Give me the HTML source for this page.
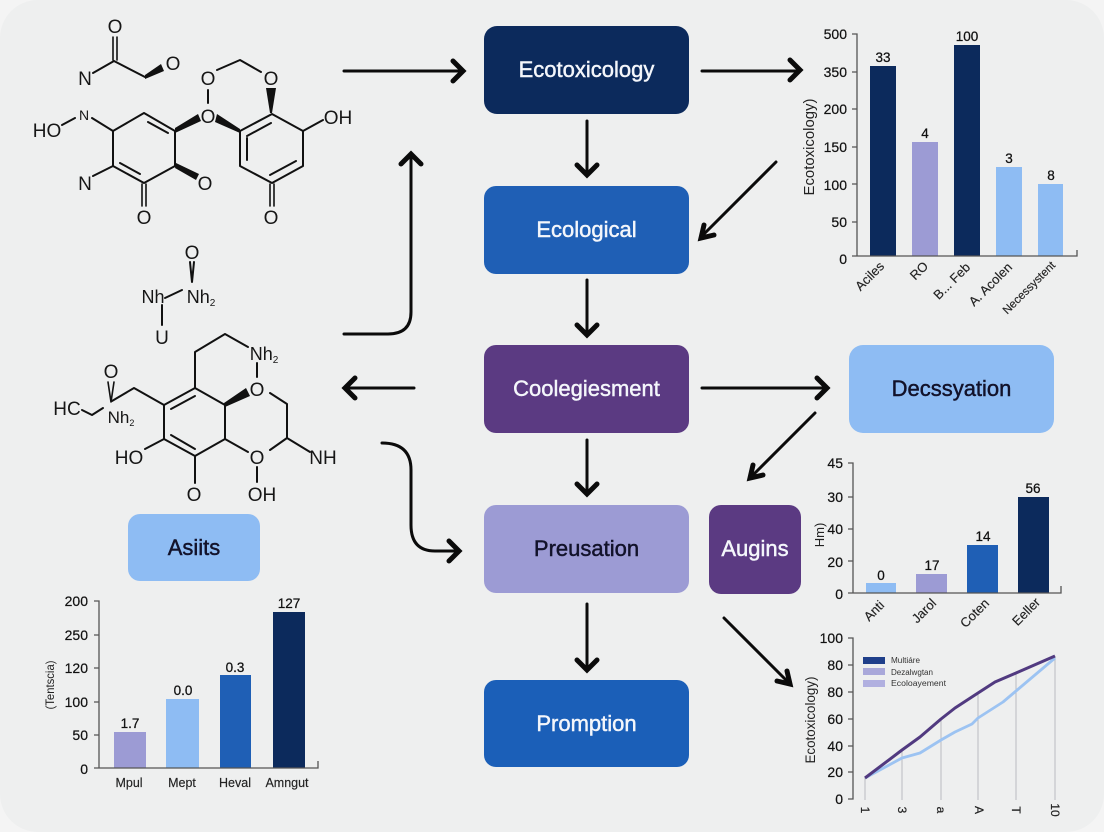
<!DOCTYPE html>
<html><head><meta charset="utf-8"><style>
html,body{margin:0;padding:0;background:#f4f4f4}
svg{display:block}
text{font-family:"Liberation Sans",sans-serif}
.c{font-size:19px;fill:#161616;text-anchor:middle}
.c2{font-size:18px;fill:#161616;text-anchor:middle}
.b{fill:none;stroke:#111;stroke-width:2;stroke-linecap:round;stroke-linejoin:round}
.w{fill:#111}
.a{fill:none;stroke:#0b0b0b;stroke-width:3;stroke-linecap:round;stroke-linejoin:round}
.h{fill:none;stroke:#0b0b0b;stroke-width:5;stroke-linecap:round;stroke-linejoin:miter}
.t{font-size:22px;text-anchor:middle;stroke-width:.45}
.y{font-size:14px;fill:#111;stroke:#111;stroke-width:.2;text-anchor:end}
.v{font-size:13.500px;fill:#111;stroke:#111;stroke-width:.25;text-anchor:middle}
.x{font-size:13px;fill:#222;stroke:#222;stroke-width:.15;text-anchor:end}
.ax{fill:none;stroke:#555;stroke-width:1.300}
</style></head><body>
<svg width="1104" height="832" viewBox="0 0 1104 832" xmlns="http://www.w3.org/2000/svg">
<rect width="1104" height="832" fill="#f4f4f4"/>
<rect width="1104" height="832" rx="38" fill="#eeefef"/>

<!-- Boxes -->
<rect x="484" y="26" width="205" height="88" rx="13" fill="#0c2a5c"/>
<rect x="484" y="186" width="205" height="88" rx="12" fill="#1f5fb5"/>
<rect x="484" y="345" width="205" height="88" rx="12" fill="#5b3a82"/>
<rect x="484" y="505" width="205" height="88" rx="12" fill="#9c9bd4"/>
<rect x="709" y="505" width="92" height="89" rx="12" fill="#5b3a82"/>
<rect x="484" y="680" width="205" height="87" rx="12" fill="#1b5fb8"/>
<rect x="849" y="345" width="205" height="88" rx="14" fill="#8ebcf3"/>
<rect x="128" y="514" width="132" height="67" rx="12" fill="#8ebcf3"/>
<text class="t" x="586.500" y="77" fill="#f4f6fb" stroke="#f4f6fb">Ecotoxicology</text>
<text class="t" x="586.500" y="237" fill="#f4f6fb" stroke="#f4f6fb">Ecological</text>
<text class="t" x="586.500" y="396" fill="#f4f6fb" stroke="#f4f6fb">Coolegiesment</text>
<text class="t" x="586.500" y="556" fill="#12122a" stroke="#12122a">Preusation</text>
<text class="t" x="755" y="556" fill="#f4f6fb" stroke="#f4f6fb">Augins</text>
<text class="t" x="586.500" y="731" fill="#f4f6fb" stroke="#f4f6fb">Promption</text>
<text class="t" x="951.500" y="396" fill="#12122a" stroke="#12122a">Decssyation</text>
<text class="t" x="194" y="555" fill="#12122a" stroke="#12122a">Asiits</text>

<!-- Arrows -->
<g class="a">
<path d="M344 71H460"/>
<path d="M702 71H797"/>
<path d="M587 121V172"/>
<path d="M776 162L703 235"/>
<path d="M587 280V332"/>
<path d="M702 388H824"/>
<path d="M414 388H348"/>
<path d="M587 440V491"/>
<path d="M815 413L752 476"/>
<path d="M587 604V667"/>
<path d="M724 618L788 682"/>
<path d="M344 334H388Q411 334 411 312V158"/>
<path d="M382 443Q411 443 411 470V525Q411 551 435 551H455"/>
</g>
<g class="h">
<path d="M453 61L463 71L453 81"/>
<path d="M790 60L800 70L790 80"/>
<path d="M577 165L587 175L597 165"/>
<path d="M704 225L701 238L714 235"/>
<path d="M577 325L587 335L597 325"/>
<path d="M817 378L827 388L817 398"/>
<path d="M355 378L345 388L355 398"/>
<path d="M577 484L587 494L597 484"/>
<path d="M753 465L750 478L763 475"/>
<path d="M577 660L587 670L597 660"/>
<path d="M787 671L790 684L777 681"/>
<path d="M401 164L411 154L421 164"/>
<path d="M449 541L459 551L449 561"/>
</g>

<!-- Molecule 1 -->
<g class="b">
<path d="M113 37V60M117 37V60" stroke-width="1.600"/>
<path d="M114 61L93 73M114 61L145 77"/>
<path d="M113 131L144 113L175 131L175 166L144 183L113 166Z"/>
<path d="M148 122L168 133M120 163L140 174"/>
<path d="M142 184V206M146 184V206" stroke-width="1.600"/>
<path d="M240 131L272 114L303 131V166L272 183L240 166Z"/>
<path d="M247 136L271 123M247 138V160M270 175L296 161"/>
<path d="M270 184V206M274 184V206" stroke-width="1.600"/>
<path d="M303 131L323 120M217 70L240 60L261 72M208 90V103"/>
<path d="M62 125L75 118M92 118L113 131M113 166L93 176"/>
</g>
<g class="w">
<path d="M145 79L145 75L161 64L164 71Z"/>
<path d="M175 133L175 128L198 114L201 121Z"/>
<path d="M240 133L240 129L217 114L215 122Z"/>
<path d="M272 113L270 113L266 88L276 88Z"/>
<path d="M175 168L176 163L199 174L196 180Z"/>
</g>
<g class="c">
<text x="115" y="33">O</text><text x="173" y="70">O</text><text x="85" y="85">N</text>
<text x="208" y="85">O</text><text x="271" y="85">O</text><text x="208" y="123">O</text>
<text x="338" y="124">OH</text><text x="47" y="137">HO</text><text x="84" y="120" font-size="14">N</text>
<text x="85" y="190">N</text><text x="205" y="190">O</text><text x="144" y="224">O</text><text x="271" y="224">O</text>
</g>

<!-- Small fragment -->
<g class="b" stroke-width="1.600">
<path d="M190 262L192 282M194 262L192 282M165 298L182 290M162 305V325"/>
</g>
<g class="c">
<text x="192" y="259">O</text><text x="162" y="344">U</text>
<text x="153" y="303" class="c2">Nh</text>
<text x="201" y="303" class="c2">Nh<tspan font-size="10" dy="3">2</tspan></text>
</g>

<!-- Molecule 2 -->
<g class="b">
<path d="M164 405L195 388L225 405V439L195 456L164 439Z"/>
<path d="M171 409L195 396M171 435L195 449"/>
<path d="M195 388V352L225 334L248 347M257 363V377"/>
<path d="M270 393L287 404V438L270 450M225 439L248 452M287 438L310 452M257 467V482"/>
<path d="M195 456V483M164 439L145 449M164 405L134 388L112 401"/>
<path d="M108 382L111 402M114 382L111 402" stroke-width="1.600"/>
<path d="M82 410L92 415L103 408"/>
</g>
<path class="w" d="M225 407L224 403L246 388L250 396Z"/>
<g class="c">
<text x="257" y="396">O</text><text x="257" y="464">O</text>
<text x="262" y="501">OH</text><text x="194" y="501">O</text><text x="323" y="464">NH</text>
<text x="129" y="464">HO</text><text x="111" y="378">O</text><text x="67" y="415">HC</text>
<text x="264" y="360" class="c2">Nh<tspan font-size="10" dy="3">2</tspan></text>
<text x="121" y="423" class="c2" style="font-size:17px">Nh<tspan font-size="9" dy="3">2</tspan></text>
</g>

<!-- Chart 1 -->
<rect x="870" y="66" width="26" height="190" fill="#0c2a5c"/>
<rect x="912" y="142" width="26" height="114" fill="#9c9bd4"/>
<rect x="954" y="45" width="26" height="211" fill="#0c2a5c"/>
<rect x="996" y="167" width="26" height="89" fill="#8ebcf3"/>
<rect x="1038" y="184" width="25" height="72" fill="#8ebcf3"/>
<path class="ax" d="M852 34H857V256M852 72H857M852 109H857M852 147H857M852 184H857M852 222H857M852 256H1077V250"/>
<g class="y"><text x="847" y="39">500</text><text x="847" y="77">350</text><text x="847" y="114">200</text><text x="847" y="152">150</text><text x="847" y="190">100</text><text x="847" y="227">50</text><text x="847" y="264">0</text></g>
<g class="v"><text x="883" y="62">33</text><text x="925" y="138">4</text><text x="967" y="41">100</text><text x="1009" y="163">3</text><text x="1051" y="180">8</text></g>
<text transform="translate(814 147) rotate(-90)" font-size="14.500" fill="#222" text-anchor="middle" textLength="97" lengthAdjust="spacingAndGlyphs">Ecotoxicology)</text>
<g class="x">
<text transform="translate(885 267) rotate(-45)">Aciles</text>
<text transform="translate(929 267) rotate(-45)">RO</text>
<text transform="translate(971 268) rotate(-45)">B... Feb</text>
<text transform="translate(1013 268) rotate(-45)">A. Acolen</text>
<text transform="translate(1056 266) rotate(-45)" font-size="11.500">Necessystent</text>
</g>

<!-- Chart 2 -->
<rect x="866" y="583" width="30" height="10" fill="#8ebcf3"/>
<rect x="916" y="574" width="31" height="19" fill="#9c9bd4"/>
<rect x="967" y="545" width="31" height="48" fill="#1f5fb5"/>
<rect x="1018" y="497" width="31" height="96" fill="#0c2a5c"/>
<path class="ax" d="M848 463H853V593M848 497H853M848 529H853M848 561H853M848 593H1061V586"/>
<g class="y"><text x="843" y="468">45</text><text x="843" y="502">30</text><text x="843" y="534">40</text><text x="843" y="567">20</text><text x="843" y="599">0</text></g>
<g class="v"><text x="881" y="580">0</text><text x="932" y="570">17</text><text x="983" y="541">14</text><text x="1033" y="493">56</text></g>
<text transform="translate(824 535) rotate(-90)" font-size="13" fill="#222" text-anchor="middle">Hm)</text>
<g class="x">
<text transform="translate(885 606) rotate(-45)">Anti</text>
<text transform="translate(937 604) rotate(-45)">Jarol</text>
<text transform="translate(990 604) rotate(-45)">Coten</text>
<text transform="translate(1041 603) rotate(-45)">Eeller</text>
</g>

<!-- Chart 3 -->
<path d="M865 778V800M902 750V800M941 719V800M978 693V800M1016 673V800M1055 656V800" stroke="#b9bbc0" stroke-width="1" fill="none"/>
<path class="ax" d="M848 638H853V799H848M848 665H853M848 692H853M848 719H853M848 746H853M848 772H853"/>
<g class="y"><text x="843" y="643">100</text><text x="843" y="670">80</text><text x="843" y="697">80</text><text x="843" y="724">60</text><text x="843" y="751">40</text><text x="843" y="777">20</text><text x="843" y="804">0</text></g>
<text transform="translate(815 720) rotate(-90)" font-size="14" fill="#222" text-anchor="middle" textLength="87" lengthAdjust="spacingAndGlyphs">Ecotoxicology)</text>
<path d="M865 778L902 758L920 753L941 740L955 732L972 724L978 718L1003 702L1016 691L1055 658" fill="none" stroke="#9cc3f2" stroke-width="2.800" stroke-linejoin="round"/>
<path d="M865 778L902 750L920 737L941 719L955 708L978 693L995 682L1016 673L1055 656" fill="none" stroke="#513a80" stroke-width="3" stroke-linejoin="round"/>
<rect x="863" y="657" width="22" height="7" fill="#1f3f8a"/>
<rect x="863" y="668" width="22" height="7" fill="#a9a8da"/>
<rect x="863" y="680" width="22" height="7" fill="#b1b0e0"/>
<g font-size="8" fill="#333"><text x="891" y="663" textLength="29" lengthAdjust="spacingAndGlyphs">Multiáre</text><text x="891" y="675" textLength="42" lengthAdjust="spacingAndGlyphs">Dezalwgtan</text><text x="891" y="686" textLength="55" lengthAdjust="spacingAndGlyphs">Ecoloayement</text></g>
<g font-size="12" fill="#222" stroke="#222" stroke-width=".2" text-anchor="middle">
<text transform="translate(861 810) rotate(90)">1</text>
<text transform="translate(898 810) rotate(90)">3</text>
<text transform="translate(937 810) rotate(90)">a</text>
<text transform="translate(975 810) rotate(90)">A</text>
<text transform="translate(1012 810) rotate(90)">T</text>
<text transform="translate(1051 810) rotate(90)">10</text>
</g>

<!-- Chart 4 -->
<rect x="114" y="732" width="32" height="36" fill="#9c9bd4"/>
<rect x="166" y="699" width="33" height="69" fill="#8ebcf3"/>
<rect x="220" y="675" width="31" height="93" fill="#1f5fb5"/>
<rect x="273" y="612" width="32" height="156" fill="#0c2a5c"/>
<path class="ax" d="M94 601H99V768M94 635H99M94 668H99M94 702H99M94 735H99M94 768H318V761"/>
<g class="y"><text x="88" y="606">200</text><text x="88" y="640">250</text><text x="88" y="673">120</text><text x="88" y="707">100</text><text x="88" y="740">50</text><text x="88" y="774">0</text></g>
<g class="v"><text x="130" y="728">1.7</text><text x="183" y="695">0.0</text><text x="235" y="672">0.3</text><text x="289" y="608">127</text></g>
<text transform="translate(54 685) rotate(-90)" font-size="12" fill="#222" text-anchor="middle" textLength="49" lengthAdjust="spacingAndGlyphs">(Tentscia)</text>
<g font-size="12.500" fill="#222" stroke="#222" stroke-width=".15" text-anchor="middle"><text x="129" y="787">Mpul</text><text x="182" y="787">Mept</text><text x="235" y="787">Heval</text><text x="287" y="787">Amngut</text></g>
</svg>
</body></html>
